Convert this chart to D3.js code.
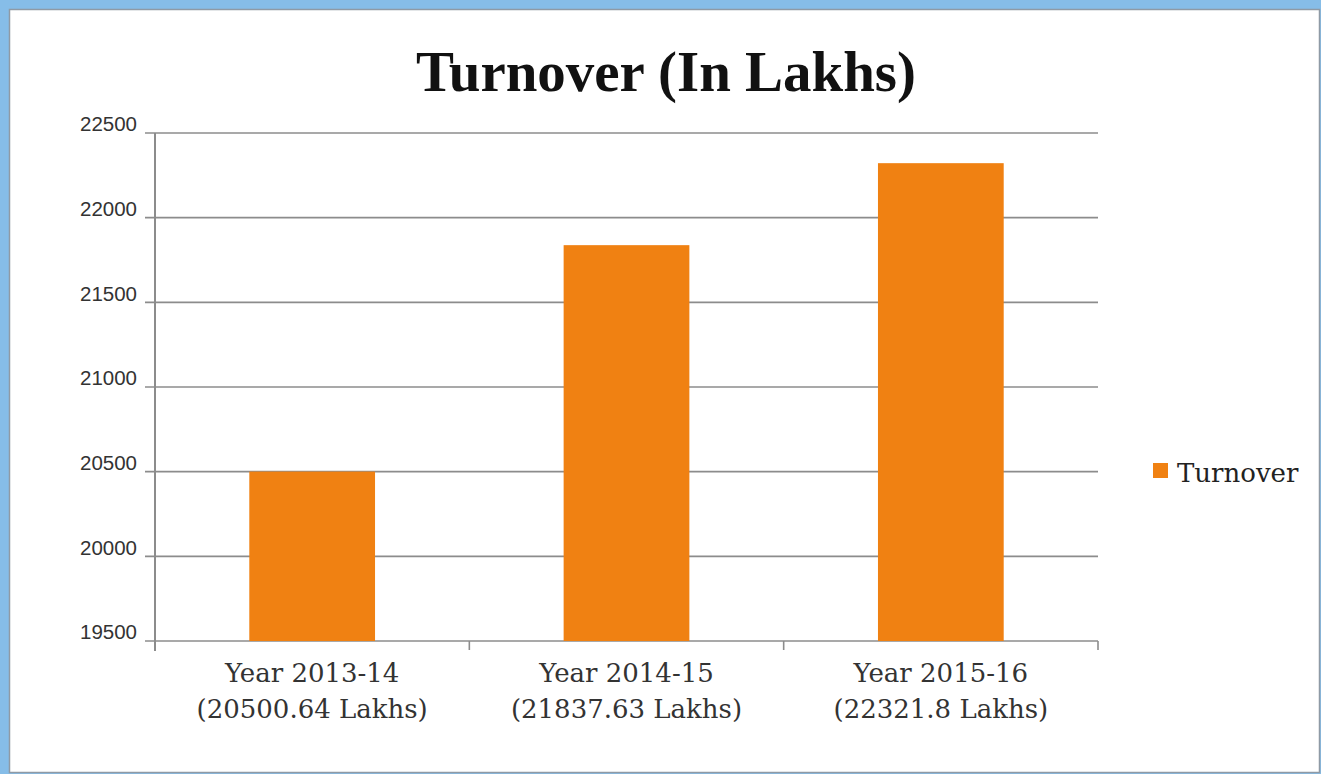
<!DOCTYPE html>
<html>
<head>
<meta charset="utf-8">
<title>Turnover (In Lakhs)</title>
<script src="https://cdn.jsdelivr.net/npm/d3@7"></script>
<style>
    html, body { margin: 0; padding: 0; background: #86bde8; }
    svg { display: block; }
    .y-axis text { font-family: "Liberation Sans", Arial, sans-serif; font-size: 20.5px; fill: #333; }
    .cat-label { font-family: "DejaVu Serif", serif; font-size: 26px; fill: #333; }
</style>
</head>
<body>
<script>
// data
var years = ['Year 2013-14', 'Year 2014-15', 'Year 2015-16'];
var yearNotes = ['(20500.64 Lakhs)', '(21837.63 Lakhs)', '(22321.8 Lakhs)'];
var turnover = [20500.64, 21837.63, 22321.8];
var yTicks = [19500, 20000, 20500, 21000, 21500, 22000, 22500];
var seriesName = 'Turnover';
var chartTitle = 'Turnover (In Lakhs)';

var width = 1321,
    height = 774,
    plot = { left: 155, right: 1098, top: 133, bottom: 641 },
    barColor = '#f08112',
    gridColor = '#8c8c8c';

var svg = d3.select('body')
    .append('svg')
    .attr('width', width)
    .attr('height', height);

/* frame */
svg.append('rect')
    .attr('x', 0).attr('y', 0)
    .attr('width', width).attr('height', height)
    .attr('fill', '#86bde8');
svg.append('rect')
    .attr('x', 9.5).attr('y', 9.5)
    .attr('width', 1310).attr('height', 763)
    .attr('fill', '#fff')
    .attr('stroke', '#8f9aa5')
    .attr('stroke-width', 1.5);

var x = d3.scaleBand()
    .domain(years)
    .range([plot.left, plot.right])
    .paddingInner(0.6)
    .paddingOuter(0.3);

var xBand = d3.scaleBand()
    .domain(years)
    .range([plot.left, plot.right]);

var y = d3.scaleLinear()
    .domain([19500, 22500])
    .range([plot.bottom, plot.top]);

/* gridlines */
svg.append('g')
    .selectAll('line')
    .data(yTicks)
    .enter()
    .append('line')
    .attr('x1', plot.left - 10)
    .attr('x2', plot.right)
    .attr('y1', function (d) { return y(d); })
    .attr('y2', function (d) { return y(d); })
    .attr('stroke', gridColor)
    .attr('stroke-width', 1.6);

/* bars */
svg.append('g')
    .selectAll('rect')
    .data(turnover)
    .enter()
    .append('rect')
    .attr('x', function (d, i) { return x(years[i]); })
    .attr('y', function (d) { return y(d); })
    .attr('width', x.bandwidth())
    .attr('height', function (d) { return plot.bottom - y(d); })
    .attr('fill', barColor);

/* y axis */
var yAxis = svg.append('g')
    .attr('class', 'y-axis')
    .attr('transform', 'translate(' + plot.left + ',0)')
    .call(d3.axisLeft(y).tickValues(yTicks).tickSize(10).tickPadding(8).tickFormat(d3.format('d')));
yAxis.select('.domain').remove();
yAxis.selectAll('.tick line').remove();
yAxis.selectAll('.tick text').attr('dy', '-0.1em');

svg.append('line')
    .attr('x1', plot.left).attr('x2', plot.left)
    .attr('y1', plot.top).attr('y2', plot.bottom + 10)
    .attr('stroke', gridColor)
    .attr('stroke-width', 2);

/* x axis ticks at category edges */
var edges = years.map(function (d) { return xBand(d); }).concat([plot.right]);
svg.append('g')
    .selectAll('line')
    .data(edges.slice(1))
    .enter()
    .append('line')
    .attr('x1', function (d) { return d; })
    .attr('x2', function (d) { return d; })
    .attr('y1', plot.bottom)
    .attr('y2', plot.bottom + 9)
    .attr('stroke', gridColor)
    .attr('stroke-width', 1.6);

/* category labels */
var cats = svg.append('g')
    .selectAll('text')
    .data(years)
    .enter()
    .append('text')
    .attr('class', 'cat-label')
    .attr('text-anchor', 'middle')
    .attr('x', function (d) { return xBand(d) + xBand.bandwidth() / 2; })
    .attr('y', 682);
cats.append('tspan').text(function (d) { return d; });
cats.append('tspan')
    .attr('x', function (d) { return xBand(d) + xBand.bandwidth() / 2; })
    .attr('dy', 36)
    .text(function (d, i) { return yearNotes[i]; });

/* title */
svg.append('text')
    .attr('x', 666)
    .attr('y', 91)
    .attr('text-anchor', 'middle')
    .attr('font-family', '"Liberation Serif", serif')
    .attr('font-weight', 'bold')
    .attr('font-size', 57)
    .attr('textLength', 500)
    .attr('lengthAdjust', 'spacingAndGlyphs')
    .attr('fill', '#111')
    .text(chartTitle);

/* legend */
var legend = svg.append('g').attr('transform', 'translate(1153,463)');
legend.append('rect')
    .attr('width', 15).attr('height', 15)
    .attr('fill', barColor);
legend.append('text')
    .attr('x', 24)
    .attr('y', 19)
    .attr('font-family', '"DejaVu Serif", serif')
    .attr('font-size', 26)
    .attr('fill', '#222')
    .text(seriesName);
</script>
</body>
</html>
